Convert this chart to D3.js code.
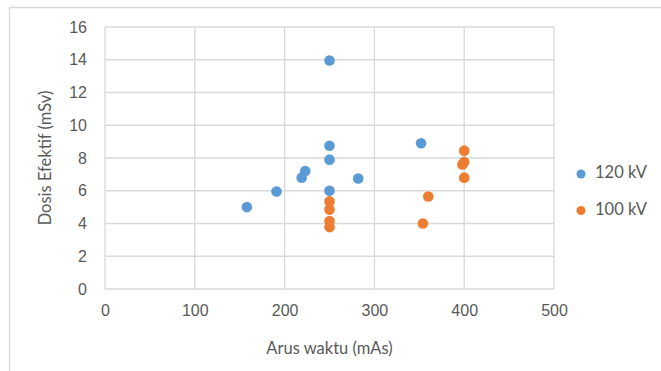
<!DOCTYPE html>
<html>
<head>
<meta charset="utf-8">
<script src="https://cdn.jsdelivr.net/npm/d3@7"></script>
<style>
  html, body { margin: 0; padding: 0; background: #fff; }
  svg { display: block; font-family: Lato, "Open Sans", sans-serif; }
</style>
</head>
<body>
<svg id="chart" width="661" height="371"></svg>
<script>
// series 120 kV
const mas120 = [250, 250, 250, 223, 219, 282, 352, 191, 250, 158];
const dose120 = [13.95, 8.75, 7.9, 7.2, 6.8, 6.75, 8.9, 5.95, 6.0, 5.0];
// series 100 kV
const mas100 = [400, 400, 398, 400, 360, 354, 250, 250, 250, 250];
const dose100 = [8.45, 7.75, 7.6, 6.8, 5.65, 4.0, 5.35, 4.85, 4.15, 3.78];

const seriesNames = ["120 kV", "100 kV"];
const seriesColors = ["#5B9BD5", "#ED7D31"];
const xTicks = [0, 100, 200, 300, 400, 500];
const yTicks = [0, 2, 4, 6, 8, 10, 12, 14, 16];

const width = 661, height = 371;
const margin = { top: 27, right: 107, bottom: 82, left: 105 };

const svg = d3.select("#chart");

// outer chart frame (only top and left edges visible)
svg.append("path")
    .attr("d", `M9.5,${height}V7.5H${width}`)
    .attr("fill", "none")
    .attr("stroke", "#d9d9d9")
    .attr("stroke-width", 1.3);

const x = d3.scaleLinear().domain([0, 500]).range([margin.left, width - margin.right]);
const y = d3.scaleLinear().domain([0, 16]).range([height - margin.bottom, margin.top]);

// grid
const grid = svg.append("g").attr("stroke", "#d9d9d9").attr("stroke-width", 1.3);
grid.selectAll("line.v").data(xTicks).join("line")
    .attr("x1", d => x(d)).attr("x2", d => x(d))
    .attr("y1", y(0)).attr("y2", y(16));
grid.selectAll("line.h").data(yTicks).join("line")
    .attr("x1", x(0)).attr("x2", x(500))
    .attr("y1", d => y(d)).attr("y2", d => y(d));

// x axis
svg.append("g")
    .attr("transform", `translate(0,${y(0)})`)
    .call(d3.axisBottom(x).tickValues(xTicks).tickSize(0).tickPadding(16))
    .call(g => g.select(".domain").remove())
    .call(g => g.selectAll("text").attr("fill", "#595959").style("font-size", "16px"));

// y axis
svg.append("g")
    .attr("transform", `translate(${x(0)},0)`)
    .call(d3.axisLeft(y).tickValues(yTicks).tickSize(0).tickPadding(18))
    .call(g => g.select(".domain").remove())
    .call(g => g.selectAll("text").attr("fill", "#595959").style("font-size", "16px"));

// axis titles
svg.append("text")
    .attr("x", (x(0) + x(500)) / 2)
    .attr("y", 350)
    .attr("text-anchor", "middle")
    .attr("dominant-baseline", "middle")
    .attr("fill", "#595959")
    .style("font-size", "16.5px")
    .text("Arus waktu (mAs)");

svg.append("text")
    .attr("transform", `translate(47,${(y(0) + y(16)) / 2}) rotate(-90)`)
    .attr("text-anchor", "middle")
    .attr("dominant-baseline", "middle")
    .attr("fill", "#595959")
    .style("font-size", "16.5px")
    .text("Dosis Efektif (mSv)");

// points
const series = [
    mas120.map((m, i) => ({ m, d: dose120[i] })),
    mas100.map((m, i) => ({ m, d: dose100[i] }))
];

series.forEach((pts, si) => {
    svg.append("g")
        .selectAll("circle")
        .data(pts)
        .join("circle")
        .attr("cx", p => x(p.m))
        .attr("cy", p => y(p.d))
        .attr("r", 5.3)
        .attr("fill", seriesColors[si]);
});

// legend
const legend = svg.append("g").attr("transform", "translate(581,174)");
seriesNames.forEach((name, i) => {
    const row = legend.append("g").attr("transform", `translate(0,${i * 36.5})`);
    row.append("circle").attr("r", 4.5).attr("fill", seriesColors[i]);
    row.append("text")
        .attr("x", 14)
        .attr("dominant-baseline", "middle")
        .attr("fill", "#595959")
        .style("font-size", "16.5px")
        .text(name);
});
</script>
</body>
</html>
